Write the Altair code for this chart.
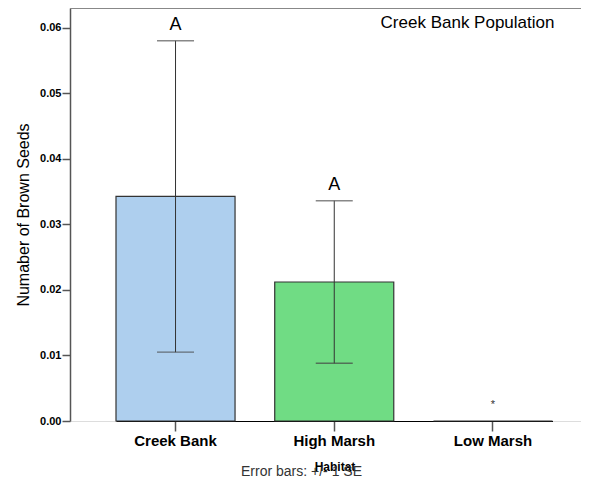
import altair as alt
import pandas as pd

habitats = ["Creek Bank", "High Marsh", "Low Marsh"]
means = [0.03425, 0.0212, 0.0]
se = [0.02375, 0.0124, 0.0]
letters = ["A", "A", "*"]
colors = ["#AECFEE", "#70DC84", "#FFFFFF"]

df = pd.DataFrame({
    "Habitat": habitats,
    "mean": means,
    "lo": [m - s for m, s in zip(means, se)],
    "hi": [m + s for m, s in zip(means, se)],
    "letter": letters,
})

FONT = "Liberation Sans"
W, H = 511, 413
xenc = alt.X("Habitat:N", sort=habitats,
             scale=alt.Scale(range=[46, 482.5], paddingInner=0.25, paddingOuter=0),
             axis=alt.Axis(title=None, labelAngle=0, labelFont=FONT, labelFontSize=15,
                           labelFontWeight="bold", labelColor="#000", labelPadding=2,
                           tickSize=10, tickColor="#555", tickWidth=1.5,
                           domainColor="#000", domainWidth=1.2))
yscale = alt.Scale(domain=[0, 0.063], nice=False, zero=True)
xs = alt.X("Habitat:N", sort=habitats)

bars = alt.Chart(df).mark_bar(stroke="#333", strokeWidth=1.2).encode(
    x=xenc,
    y=alt.Y("mean:Q", scale=yscale,
            axis=alt.Axis(title="Numaber of Brown Seeds", values=[0, 0.01, 0.02, 0.03, 0.04, 0.05, 0.06],
                          format=".2f", grid=False, labelFont=FONT, labelFontSize=11,
                          labelFontWeight="bold", labelColor="#000", labelPadding=1,
                          tickSize=8, tickColor="#555", tickWidth=1.5,
                          domainColor="#555", domainWidth=1.5, titleFont=FONT,
                          titleFontSize=16, titleFontWeight="normal", titleColor="#000",
                          titlePadding=8)),
    color=alt.Color("Habitat:N", scale=alt.Scale(domain=habitats, range=colors), legend=None),
)

dfe = df[df["hi"] > df["lo"]]
err = alt.Chart(dfe).mark_rule(color="#333", strokeWidth=1).encode(
    x=xs, y=alt.Y("lo:Q", scale=yscale), y2="hi:Q")
caps_hi = alt.Chart(dfe).mark_tick(color="#555", size=37, thickness=1.4).encode(
    x=xs, y=alt.Y("hi:Q", scale=yscale))
caps_lo = alt.Chart(dfe).mark_tick(color="#444", size=37, thickness=1.4).encode(
    x=xs, y=alt.Y("lo:Q", scale=yscale))

labs = alt.Chart(df[df["letter"] == "A"]).mark_text(font=FONT, fontSize=18, dy=-16, color="#000").encode(
    x=xs, y=alt.Y("hi:Q", scale=yscale), text="letter:N")
star = alt.Chart(df[df["letter"] == "*"]).mark_text(font=FONT, fontSize=11, dy=-16, color="#333").encode(
    x=xs, y=alt.Y("hi:Q", scale=yscale), text="letter:N")

top_line = alt.Chart(pd.DataFrame({"a": [0]})).mark_rule(color="#888", strokeWidth=2).encode(
    x=alt.value(0), x2=alt.value(W), y=alt.value(0))

title_txt = alt.Chart(pd.DataFrame({"t": ["Creek Bank Population"]})).mark_text(
    font=FONT, fontSize=17, color="#000", align="center").encode(
    x=alt.value(397.5), y=alt.value(15), text="t:N")
hab_txt = alt.Chart(pd.DataFrame({"t": ["Habitat"]})).mark_text(
    font=FONT, fontSize=12, fontWeight="bold", color="#000", align="center").encode(
    x=alt.value(265), y=alt.value(459), text="t:N")
err_txt = alt.Chart(pd.DataFrame({"t": ["Error bars: +/- 1 SE"]})).mark_text(
    font=FONT, fontSize=14, color="#333", align="center").encode(
    x=alt.value(231.5), y=alt.value(464), text="t:N")

chart = alt.layer(bars, err, caps_hi, caps_lo, labs, star, top_line, title_txt, hab_txt, err_txt).properties(
    width=W, height=H,
    autosize=alt.AutoSizeParams(type="none"),
    padding={"left": 62, "top": 0, "right": 0, "bottom": 57},
).configure_view(strokeWidth=0).configure(background="white")

chart.save("out.html", embed_options={"renderer": "svg", "actions": False})
